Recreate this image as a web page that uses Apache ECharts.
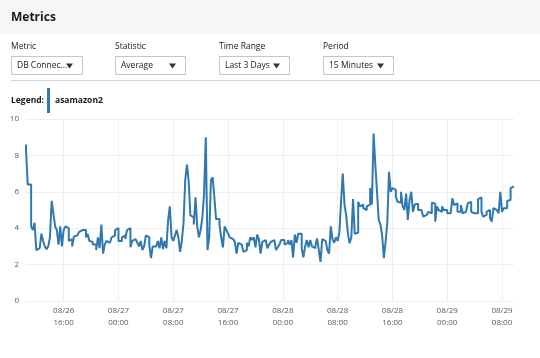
<!DOCTYPE html>
<html>
<head>
<meta charset="utf-8">
<script src="https://cdn.jsdelivr.net/npm/echarts@6/dist/echarts.min.js"></script>
<style>
  html, body { margin: 0; padding: 0; background: #fff; }
  #chart { width: 540px; height: 358px; }
</style>
</head>
<body>
<div id="chart"></div>
<script>
// Time settings: 15-minute periods starting 08/26 10:30
const startLabel = { month: 8, day: 26, hour: 10, minute: 30 };
const periodMinutes = 15;

// DB connections (Average) for asamazon2, one value per 15-minute period
const values = [
  8.6, 8.3, 6.4, 6.4, 4.1, 3.9, 4.3, 2.8, 2.9, 2.8,
  3.7, 3.3, 3.0, 2.85, 3.0, 3.5, 5.5, 4.8, 4.1, 3.9,
  3.1, 4.1, 3.0, 3.9, 4.1, 4.0, 3.3, 3.4, 3.0, 3.55,
  3.6, 3.7, 3.8, 3.9, 3.8, 3.9, 3.5, 3.7, 3.3, 3.25,
  3.1, 3.1, 2.8, 3.5, 2.9, 4.2, 2.6, 3.1, 3.3, 3.2,
  3.3, 3.5, 3.6, 3.9, 4.0, 3.3, 3.3, 3.5, 3.6, 3.4,
  3.9, 4.0, 2.95, 3.3, 3.4, 3.3, 3.2, 3.0, 3.3, 2.8,
  3.0, 3.6, 3.5, 3.1, 2.35, 3.0, 3.0, 3.1, 3.3, 2.9,
  3.5, 2.85, 3.3, 2.9, 4.45, 5.2, 3.5, 3.3, 3.6, 3.9,
  3.5, 2.7, 3.3, 4.3, 6.65, 7.5, 6.6, 4.7, 4.6, 4.2,
  5.7, 4.1, 3.5, 3.9, 4.6, 5.9, 9.0, 2.8, 3.5, 6.65,
  6.8, 5.7, 4.5, 4.5, 4.2, 3.5, 2.95, 4.1, 3.9, 3.7,
  3.5, 3.4, 3.35, 3.25, 2.6, 3.2, 3.1, 3.1, 2.7, 2.8,
  3.2, 3.0, 3.5, 3.35, 3.5, 2.95, 3.65, 3.4, 2.6, 3.25,
  3.35, 3.35, 2.9, 3.1, 3.25, 3.35, 3.35, 2.8, 2.95, 3.1,
  3.35, 3.35, 3.1, 3.2, 3.35, 3.1, 3.35, 2.4, 3.65, 3.2,
  3.7, 3.7, 2.9, 2.4, 3.0, 3.35, 2.95, 3.35, 3.0, 2.9,
  3.05, 3.44, 2.8, 2.15, 3.4, 3.3, 3.2, 2.8, 2.6, 4.1,
  3.4, 3.2, 3.5, 3.3, 3.75, 5.45, 7.0, 5.3, 4.7, 3.7,
  3.17, 3.5, 5.6, 3.7, 3.75, 5.45, 5.2, 5.3, 5.1, 5.0,
  5.2, 5.3, 6.2, 5.3, 9.2, 7.5, 6.0, 4.45, 4.2, 3.6,
  2.35, 3.25, 4.3, 7.1, 6.0, 6.2, 6.1, 5.73, 5.45, 5.4,
  6.0, 5.2, 5.0, 5.9, 4.45, 5.55, 6.0, 4.9, 5.3, 5.35,
  5.0, 5.0, 5.0, 4.63, 4.73, 4.82, 4.9, 4.82, 5.4, 5.35,
  4.36, 5.2, 5.0, 4.9, 5.2, 5.0, 5.0, 4.82, 4.82, 4.8,
  5.64, 5.27, 5.37, 4.9, 4.9, 5.27, 4.82, 4.9, 5.0, 5.37,
  5.45, 4.9, 4.82, 4.9, 4.82, 5.6, 5.7, 4.9, 4.63, 4.73,
  4.9, 5.0, 4.54, 4.36, 5.1, 5.0, 5.1, 4.82, 6.0, 4.9,
  5.1, 5.1, 5.5, 5.55, 6.2, 6.3
];

const yTicks = [0, 2, 4, 6, 8, 10];
const seriesName = 'asamazon2';
const controlLabels = ['Metric', 'Statistic', 'Time Range', 'Period'];
const controlValues = ['DB Connec...', 'Average', 'Last 3 Days', '15 Minutes'];

// Build category labels "MM/DD HH:MM"
function pad(n) { return (n < 10 ? '0' : '') + n; }
const categories = [];
for (let i = 0; i < values.length; i++) {
  const totalMin = startLabel.hour * 60 + startLabel.minute + i * periodMinutes;
  const day = startLabel.day + Math.floor(totalMin / 1440);
  const m = totalMin % 1440;
  categories.push(pad(startLabel.month) + '/' + pad(day) + ' ' + pad(Math.floor(m / 60)) + ':' + pad(m % 60));
}
function isMajor(index) {
  const t = categories[index].split(' ')[1];
  const h = parseInt(t.split(':')[0], 10);
  return t.endsWith(':00') && h % 8 === 0;
}

const FONT = '"Open Sans", "Noto Sans", sans-serif';
const chart = echarts.init(document.getElementById('chart'), null, { renderer: 'canvas' });

const graphics = [
  { type: 'rect', left: 0, top: 0, shape: { width: 540, height: 34 }, style: { fill: '#f6f6f6' }, silent: true },
  { type: 'text', left: 11, top: 12, style: { text: 'Metrics', font: 'bold 12px ' + FONT, fill: '#16191f' } },
  { type: 'rect', left: 11, top: 80, shape: { width: 529, height: 1 }, style: { fill: '#d5d5d5' } },
  { type: 'text', left: 11, top: 96, style: { text: 'Legend:', font: 'bold 8.5px ' + FONT, fill: '#16191f' } }
];
const boxX = [11, 115, 219, 323];
const boxW = [71, 70, 70, 70];
for (let i = 0; i < controlLabels.length; i++) {
  graphics.push({ type: 'text', left: boxX[i], top: 42, style: { text: controlLabels[i], font: '8.5px ' + FONT, fill: '#16191f' } });
  graphics.push({ type: 'rect', shape: { x: boxX[i] + 0.5, y: 56.5, width: boxW[i], height: 18 }, style: { fill: '#fff', stroke: '#c6c6c6', lineWidth: 1 } });
  graphics.push({ type: 'text', left: boxX[i] + 6, top: 61, style: { text: controlValues[i], font: '8.5px ' + FONT, fill: '#16191f' } });
  graphics.push({ type: 'polygon', shape: { points: [[boxX[i] + boxW[i] - 16, 63.5], [boxX[i] + boxW[i] - 9, 63.5], [boxX[i] + boxW[i] - 12.5, 68.5]] }, style: { fill: '#333' } });
}

chart.setOption({
  animation: false,
  textStyle: { fontFamily: FONT },
  graphic: graphics,
  legend: {
    left: 47, top: 88, padding: 0,
    icon: 'rect', itemWidth: 3, itemHeight: 25, itemGap: 6,
    textStyle: { fontFamily: FONT, fontSize: 8.5, fontWeight: 'bold', color: '#16191f' },
    data: [seriesName]
  },
  grid: { left: 26, right: 26, top: 119, bottom: 57 },
  xAxis: {
    type: 'category',
    data: categories,
    boundaryGap: false,
    axisLine: { show: false },
    axisTick: { show: false },
    axisLabel: {
      interval: (idx) => isMajor(idx),
      formatter: (v) => v.replace(' ', '\n'),
      color: '#545b64', fontSize: 8, lineHeight: 12, margin: 4, fontFamily: FONT
    },
    splitLine: { show: true, interval: (idx) => isMajor(idx), lineStyle: { color: '#efefef', width: 1 } }
  },
  yAxis: {
    type: 'value',
    min: yTicks[0], max: yTicks[yTicks.length - 1], interval: 2,
    axisLine: { show: false },
    axisTick: { show: false },
    axisLabel: { color: '#545b64', fontSize: 8, margin: 7, fontFamily: FONT },
    splitLine: { lineStyle: { color: '#efefef', width: 1 } }
  },
  series: [{
    name: seriesName,
    type: 'line',
    step: 'start',
    data: values,
    showSymbol: false,
    symbol: 'none',
    color: '#2f78b0',
    lineStyle: { color: '#2f78b0', width: 2 }
  }]
});
</script>
</body>
</html>
